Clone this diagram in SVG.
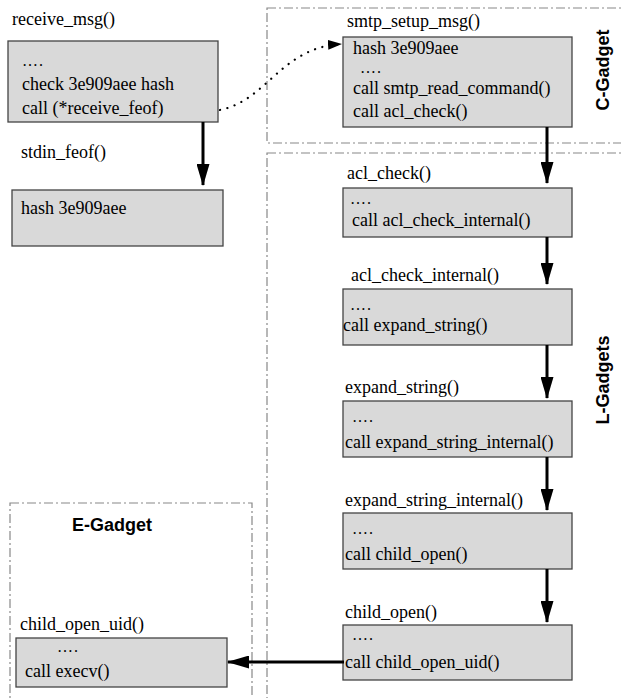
<svg xmlns="http://www.w3.org/2000/svg" width="621" height="698" viewBox="0 0 621 698">
<defs>
<style>
.t{font-family:"Liberation Serif","Times New Roman",serif;font-size:18px;fill:#000}
.d{font-size:16px;letter-spacing:1px}
.g{font-family:"Liberation Sans",Arial,sans-serif;font-size:18px;font-weight:bold;fill:#000}
.box{fill:#d9d9d9;stroke:#444;stroke-width:1.3}
.grp{fill:none;stroke:#888;stroke-width:1.2;stroke-dasharray:9,3,2,3}
.arr{stroke:#000;stroke-width:3;fill:none}
</style>
<marker id="ah" viewBox="0 0 22 13" refX="21" refY="6.5" markerWidth="22" markerHeight="13" markerUnits="userSpaceOnUse" orient="auto">
<path d="M0,0 L22,6.5 L0,13 Z" fill="#000"/>
</marker>
<marker id="ahs" viewBox="0 0 14 10" refX="13" refY="5" markerWidth="14" markerHeight="10" markerUnits="userSpaceOnUse" orient="auto">
<path d="M0,0 L14,5 L0,10 Z" fill="#000"/>
</marker>
</defs>
<rect width="621" height="698" fill="#fff"/>

<g id="c-gadget-group">
<rect class="grp" x="267" y="8" width="365" height="135"/>
<text class="g" transform="translate(609,70) rotate(-90)" text-anchor="middle">C-Gadget</text>
</g>
<g id="l-gadgets-group">
<rect class="grp" x="267" y="153" width="365" height="560"/>
<text class="g" transform="translate(609,380) rotate(-90)" text-anchor="middle">L-Gadgets</text>
</g>
<g id="e-gadget-group">
<rect class="grp" x="10" y="503" width="242" height="210"/>
<text class="g" x="112" y="531" text-anchor="middle">E-Gadget</text>
</g>

<g id="receive_msg">
<text class="t" x="12" y="25">receive_msg()</text>
<rect class="box" x="8" y="41" width="210" height="81"/>
<text class="t d" x="22" y="66">….</text>
<text class="t" x="22" y="90">check 3e909aee hash</text>
<text class="t" x="22" y="114">call (*receive_feof)</text>
</g>

<g id="stdin_feof">
<text class="t" x="21" y="158">stdin_feof()</text>
<rect class="box" x="12" y="190" width="211" height="56"/>
<text class="t" x="21" y="214">hash 3e909aee</text>
</g>

<g id="smtp_setup_msg">
<text class="t" x="347" y="27">smtp_setup_msg()</text>
<rect class="box" x="343" y="37" width="229" height="90"/>
<text class="t" x="353" y="54">hash 3e909aee</text>
<text class="t d" x="360" y="73">….</text>
<text class="t" x="353" y="94">call smtp_read_command()</text>
<text class="t" x="353" y="117">call acl_check()</text>
</g>

<g id="acl_check">
<text class="t" x="347" y="179">acl_check()</text>
<rect class="box" x="343" y="188" width="229" height="49"/>
<text class="t d" x="350" y="204">….</text>
<text class="t" x="352" y="226">call acl_check_internal()</text>
</g>

<g id="acl_check_internal">
<text class="t" x="351" y="281">acl_check_internal()</text>
<rect class="box" x="343" y="289" width="229" height="56"/>
<text class="t d" x="350" y="310">….</text>
<text class="t" x="343" y="331">call expand_string()</text>
</g>

<g id="expand_string">
<text class="t" x="345" y="393">expand_string()</text>
<rect class="box" x="343" y="401" width="229" height="56"/>
<text class="t d" x="352" y="422">….</text>
<text class="t" x="345" y="448">call expand_string_internal()</text>
</g>

<g id="expand_string_internal">
<text class="t" x="345" y="506">expand_string_internal()</text>
<rect class="box" x="343" y="513" width="229" height="56"/>
<text class="t d" x="352" y="534">….</text>
<text class="t" x="345" y="560">call child_open()</text>
</g>

<g id="child_open">
<text class="t" x="345" y="618">child_open()</text>
<rect class="box" x="343" y="625" width="229" height="55"/>
<text class="t d" x="352" y="640">….</text>
<text class="t" x="345" y="668">call child_open_uid()</text>
</g>

<g id="child_open_uid">
<text class="t" x="20" y="630">child_open_uid()</text>
<rect class="box" x="16" y="638" width="211" height="49"/>
<text class="t d" x="57" y="652">….</text>
<text class="t" x="25" y="677">call execv()</text>
</g>

<g id="connectors">
<line class="arr" x1="203" y1="122" x2="203" y2="185" marker-end="url(#ah)"/>
<path d="M220,110 C268,100 280,48 341,44" fill="none" stroke="#000" stroke-width="2.2" stroke-dasharray="0.1,7.5" stroke-linecap="round" marker-end="url(#ahs)"/>
<line class="arr" x1="547" y1="127" x2="547" y2="183" marker-end="url(#ah)"/>
<line class="arr" x1="547" y1="237" x2="547" y2="284" marker-end="url(#ah)"/>
<line class="arr" x1="547" y1="345" x2="547" y2="398" marker-end="url(#ah)"/>
<line class="arr" x1="547" y1="457" x2="547" y2="510" marker-end="url(#ah)"/>
<line class="arr" x1="547" y1="569" x2="547" y2="622" marker-end="url(#ah)"/>
<line class="arr" x1="344" y1="662" x2="228" y2="662" marker-end="url(#ah)"/>
</g>
</svg>
